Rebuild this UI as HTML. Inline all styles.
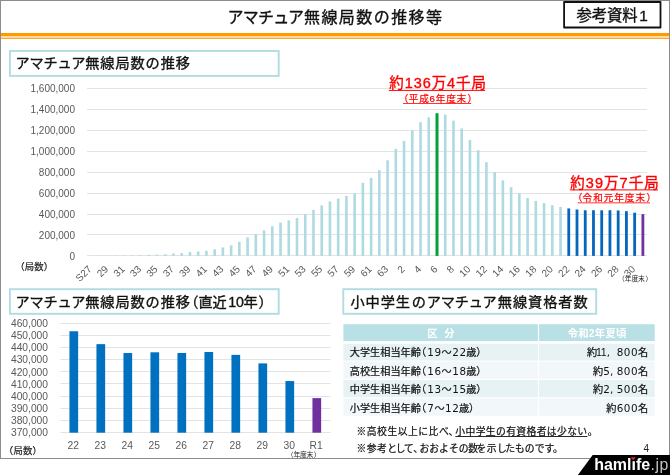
<!DOCTYPE html>
<html lang="ja"><head><meta charset="utf-8"><title>アマチュア無線局数の推移等</title>
<style>html,body{margin:0;padding:0;background:#fff;}svg{display:block;}</style>
</head><body>
<svg width="670" height="475" viewBox="0 0 670 475" font-family='&quot;Liberation Sans&quot;, &quot;Noto Sans CJK JP&quot;, sans-serif'>
<rect x="0" y="0" width="670" height="475" fill="#fff"/>
<rect x="0.5" y="0.5" width="669" height="458" fill="#fff" stroke="#8c8c8c" stroke-width="1"/>
<rect x="1" y="33" width="668" height="3" fill="#ff9a00"/>
<rect x="1" y="36" width="668" height="2" fill="#ffd9a3"/>
<rect x="1" y="38" width="668" height="1" fill="#ffa826"/>
<text x="227.50" y="22.80" font-size="16" fill="#111" stroke="#111" stroke-width="0.35" textLength="76.60" lengthAdjust="spacing">アマチュア</text>
<text x="304.00" y="22.80" font-size="16" fill="#111" stroke="#111" stroke-width="0.35" textLength="138.00" lengthAdjust="spacing">無線局数の推移等</text>
<rect x="564.1" y="2.0" width="96.4" height="25.5" fill="#fff" stroke="#111" stroke-width="1.8" stroke-linejoin="round"/>
<text x="576.40" y="20.80" font-size="15.4" fill="#111" stroke="#111" stroke-width="0.35" textLength="61.20" lengthAdjust="spacing">参考資料</text>
<text x="639.30" y="20.80" font-size="15.4" fill="#111" stroke="#111" stroke-width="0.35">1</text>
<rect x="9.9" y="51.0" width="268.8" height="24.9" fill="#fff" stroke="#b2dce3" stroke-width="1.9"/>
<text x="15.60" y="68.40" font-size="14.2" fill="#111" stroke="#111" stroke-width="0.35" textLength="69.80" lengthAdjust="spacing">アマチュア</text>
<text x="85.20" y="68.40" font-size="14.2" fill="#111" stroke="#111" stroke-width="0.35" textLength="104.80" lengthAdjust="spacing">無線局数の推移</text>
<line x1="87.0" y1="255.50" x2="647.0" y2="255.50" stroke="#e3e3e3" stroke-width="1"/>
<text x="75" y="259.50" font-size="10" text-anchor="end" fill="#595959">0</text>
<line x1="87.0" y1="234.50" x2="647.0" y2="234.50" stroke="#e3e3e3" stroke-width="1"/>
<text x="75" y="238.55" font-size="10" text-anchor="end" fill="#595959">200,000</text>
<line x1="87.0" y1="214.50" x2="647.0" y2="214.50" stroke="#e3e3e3" stroke-width="1"/>
<text x="75" y="217.60" font-size="10" text-anchor="end" fill="#595959">400,000</text>
<line x1="87.0" y1="193.50" x2="647.0" y2="193.50" stroke="#e3e3e3" stroke-width="1"/>
<text x="75" y="196.65" font-size="10" text-anchor="end" fill="#595959">600,000</text>
<line x1="87.0" y1="172.50" x2="647.0" y2="172.50" stroke="#e3e3e3" stroke-width="1"/>
<text x="75" y="175.70" font-size="10" text-anchor="end" fill="#595959">800,000</text>
<line x1="87.0" y1="151.50" x2="647.0" y2="151.50" stroke="#e3e3e3" stroke-width="1"/>
<text x="75" y="154.75" font-size="10" text-anchor="end" fill="#595959">1,000,000</text>
<line x1="87.0" y1="130.50" x2="647.0" y2="130.50" stroke="#e3e3e3" stroke-width="1"/>
<text x="75" y="133.80" font-size="10" text-anchor="end" fill="#595959">1,200,000</text>
<line x1="87.0" y1="109.50" x2="647.0" y2="109.50" stroke="#e3e3e3" stroke-width="1"/>
<text x="75" y="112.85" font-size="10" text-anchor="end" fill="#595959">1,400,000</text>
<line x1="87.0" y1="88.50" x2="647.0" y2="88.50" stroke="#e3e3e3" stroke-width="1"/>
<text x="75" y="91.90" font-size="10" text-anchor="end" fill="#595959">1,600,000</text>
<rect x="89.82" y="255.90" width="2.60" height="0.00" fill="#aedae1"/>
<rect x="98.05" y="255.85" width="2.60" height="0.05" fill="#aedae1"/>
<rect x="106.29" y="255.74" width="2.60" height="0.16" fill="#aedae1"/>
<rect x="114.52" y="255.62" width="2.60" height="0.28" fill="#aedae1"/>
<rect x="122.76" y="255.50" width="2.60" height="0.40" fill="#aedae1"/>
<rect x="130.99" y="255.38" width="2.60" height="0.52" fill="#aedae1"/>
<rect x="139.23" y="255.22" width="2.60" height="0.68" fill="#aedae1"/>
<rect x="147.46" y="254.96" width="2.60" height="0.94" fill="#aedae1"/>
<rect x="155.70" y="254.57" width="2.60" height="1.33" fill="#aedae1"/>
<rect x="163.94" y="254.22" width="2.60" height="1.68" fill="#aedae1"/>
<rect x="172.17" y="253.44" width="2.60" height="2.46" fill="#aedae1"/>
<rect x="180.41" y="253.07" width="2.60" height="2.83" fill="#aedae1"/>
<rect x="188.64" y="252.13" width="2.60" height="3.77" fill="#aedae1"/>
<rect x="196.88" y="251.40" width="2.60" height="4.50" fill="#aedae1"/>
<rect x="205.11" y="250.77" width="2.60" height="5.13" fill="#aedae1"/>
<rect x="213.35" y="249.30" width="2.60" height="6.60" fill="#aedae1"/>
<rect x="221.58" y="247.42" width="2.60" height="8.48" fill="#aedae1"/>
<rect x="229.82" y="245.32" width="2.60" height="10.58" fill="#aedae1"/>
<rect x="238.05" y="241.86" width="2.60" height="14.04" fill="#aedae1"/>
<rect x="246.29" y="237.36" width="2.60" height="18.54" fill="#aedae1"/>
<rect x="254.52" y="234.01" width="2.60" height="21.89" fill="#aedae1"/>
<rect x="262.76" y="230.45" width="2.60" height="25.45" fill="#aedae1"/>
<rect x="270.99" y="226.20" width="2.60" height="29.70" fill="#aedae1"/>
<rect x="279.23" y="222.59" width="2.60" height="33.31" fill="#aedae1"/>
<rect x="287.46" y="220.33" width="2.60" height="35.57" fill="#aedae1"/>
<rect x="295.70" y="218.05" width="2.60" height="37.85" fill="#aedae1"/>
<rect x="303.94" y="214.26" width="2.60" height="41.64" fill="#aedae1"/>
<rect x="312.17" y="209.91" width="2.60" height="45.99" fill="#aedae1"/>
<rect x="320.41" y="205.36" width="2.60" height="50.54" fill="#aedae1"/>
<rect x="328.64" y="201.38" width="2.60" height="54.52" fill="#aedae1"/>
<rect x="336.88" y="198.53" width="2.60" height="57.37" fill="#aedae1"/>
<rect x="345.11" y="195.88" width="2.60" height="60.02" fill="#aedae1"/>
<rect x="353.35" y="193.41" width="2.60" height="62.49" fill="#aedae1"/>
<rect x="361.58" y="182.78" width="2.60" height="73.12" fill="#aedae1"/>
<rect x="369.82" y="177.86" width="2.60" height="78.04" fill="#aedae1"/>
<rect x="378.05" y="170.14" width="2.60" height="85.76" fill="#aedae1"/>
<rect x="386.29" y="160.28" width="2.60" height="95.62" fill="#aedae1"/>
<rect x="394.52" y="148.90" width="2.60" height="107.00" fill="#aedae1"/>
<rect x="402.76" y="140.94" width="2.60" height="114.96" fill="#aedae1"/>
<rect x="410.99" y="130.34" width="2.60" height="125.56" fill="#aedae1"/>
<rect x="419.23" y="122.19" width="2.60" height="133.71" fill="#aedae1"/>
<rect x="427.46" y="117.42" width="2.60" height="138.48" fill="#aedae1"/>
<rect x="435.50" y="113.23" width="3.00" height="142.67" fill="#00a13a"/>
<rect x="443.94" y="114.70" width="2.60" height="141.20" fill="#aedae1"/>
<rect x="452.17" y="120.67" width="2.60" height="135.23" fill="#aedae1"/>
<rect x="460.41" y="128.44" width="2.60" height="127.46" fill="#aedae1"/>
<rect x="468.64" y="140.00" width="2.60" height="115.90" fill="#aedae1"/>
<rect x="476.88" y="150.25" width="2.60" height="105.65" fill="#aedae1"/>
<rect x="485.11" y="162.20" width="2.60" height="93.70" fill="#aedae1"/>
<rect x="493.35" y="172.20" width="2.60" height="83.70" fill="#aedae1"/>
<rect x="501.58" y="180.38" width="2.60" height="75.52" fill="#aedae1"/>
<rect x="509.82" y="187.18" width="2.60" height="68.72" fill="#aedae1"/>
<rect x="518.05" y="193.47" width="2.60" height="62.43" fill="#aedae1"/>
<rect x="526.29" y="198.00" width="2.60" height="57.90" fill="#aedae1"/>
<rect x="534.52" y="200.85" width="2.60" height="55.05" fill="#aedae1"/>
<rect x="542.76" y="203.13" width="2.60" height="52.77" fill="#aedae1"/>
<rect x="550.99" y="205.20" width="2.60" height="50.70" fill="#aedae1"/>
<rect x="559.23" y="206.92" width="2.60" height="48.98" fill="#aedae1"/>
<rect x="567.36" y="208.45" width="2.80" height="47.45" fill="#0566be"/>
<rect x="575.60" y="209.50" width="2.80" height="46.40" fill="#0566be"/>
<rect x="583.84" y="210.28" width="2.80" height="45.62" fill="#0566be"/>
<rect x="592.07" y="210.23" width="2.80" height="45.67" fill="#0566be"/>
<rect x="600.31" y="210.28" width="2.80" height="45.62" fill="#0566be"/>
<rect x="608.54" y="210.21" width="2.80" height="45.69" fill="#0566be"/>
<rect x="616.78" y="210.44" width="2.80" height="45.46" fill="#0566be"/>
<rect x="625.01" y="211.17" width="2.80" height="44.73" fill="#0566be"/>
<rect x="633.25" y="212.69" width="2.80" height="43.21" fill="#0566be"/>
<rect x="641.48" y="214.16" width="2.80" height="41.74" fill="#7030a0"/>
<text transform="translate(92.42,269.70) rotate(-45)" font-size="10" text-anchor="end" fill="#595959">S27</text>
<text transform="translate(108.89,269.70) rotate(-45)" font-size="10" text-anchor="end" fill="#595959">29</text>
<text transform="translate(125.36,269.70) rotate(-45)" font-size="10" text-anchor="end" fill="#595959">31</text>
<text transform="translate(141.83,269.70) rotate(-45)" font-size="10" text-anchor="end" fill="#595959">33</text>
<text transform="translate(158.30,269.70) rotate(-45)" font-size="10" text-anchor="end" fill="#595959">35</text>
<text transform="translate(174.77,269.70) rotate(-45)" font-size="10" text-anchor="end" fill="#595959">37</text>
<text transform="translate(191.24,269.70) rotate(-45)" font-size="10" text-anchor="end" fill="#595959">39</text>
<text transform="translate(207.71,269.70) rotate(-45)" font-size="10" text-anchor="end" fill="#595959">41</text>
<text transform="translate(224.18,269.70) rotate(-45)" font-size="10" text-anchor="end" fill="#595959">43</text>
<text transform="translate(240.65,269.70) rotate(-45)" font-size="10" text-anchor="end" fill="#595959">45</text>
<text transform="translate(257.12,269.70) rotate(-45)" font-size="10" text-anchor="end" fill="#595959">47</text>
<text transform="translate(273.59,269.70) rotate(-45)" font-size="10" text-anchor="end" fill="#595959">49</text>
<text transform="translate(290.06,269.70) rotate(-45)" font-size="10" text-anchor="end" fill="#595959">51</text>
<text transform="translate(306.54,269.70) rotate(-45)" font-size="10" text-anchor="end" fill="#595959">53</text>
<text transform="translate(323.01,269.70) rotate(-45)" font-size="10" text-anchor="end" fill="#595959">55</text>
<text transform="translate(339.48,269.70) rotate(-45)" font-size="10" text-anchor="end" fill="#595959">57</text>
<text transform="translate(355.95,269.70) rotate(-45)" font-size="10" text-anchor="end" fill="#595959">59</text>
<text transform="translate(372.42,269.70) rotate(-45)" font-size="10" text-anchor="end" fill="#595959">61</text>
<text transform="translate(388.89,269.70) rotate(-45)" font-size="10" text-anchor="end" fill="#595959">63</text>
<text transform="translate(405.36,269.70) rotate(-45)" font-size="10" text-anchor="end" fill="#595959">2</text>
<text transform="translate(421.83,269.70) rotate(-45)" font-size="10" text-anchor="end" fill="#595959">4</text>
<text transform="translate(438.30,269.70) rotate(-45)" font-size="10" text-anchor="end" fill="#595959">6</text>
<text transform="translate(454.77,269.70) rotate(-45)" font-size="10" text-anchor="end" fill="#595959">8</text>
<text transform="translate(471.24,269.70) rotate(-45)" font-size="10" text-anchor="end" fill="#595959">10</text>
<text transform="translate(487.71,269.70) rotate(-45)" font-size="10" text-anchor="end" fill="#595959">12</text>
<text transform="translate(504.18,269.70) rotate(-45)" font-size="10" text-anchor="end" fill="#595959">14</text>
<text transform="translate(520.65,269.70) rotate(-45)" font-size="10" text-anchor="end" fill="#595959">16</text>
<text transform="translate(537.12,269.70) rotate(-45)" font-size="10" text-anchor="end" fill="#595959">18</text>
<text transform="translate(553.59,269.70) rotate(-45)" font-size="10" text-anchor="end" fill="#595959">20</text>
<text transform="translate(570.06,269.70) rotate(-45)" font-size="10" text-anchor="end" fill="#595959">22</text>
<text transform="translate(586.54,269.70) rotate(-45)" font-size="10" text-anchor="end" fill="#595959">24</text>
<text transform="translate(603.01,269.70) rotate(-45)" font-size="10" text-anchor="end" fill="#595959">26</text>
<text transform="translate(619.48,269.70) rotate(-45)" font-size="10" text-anchor="end" fill="#595959">28</text>
<text transform="translate(635.95,269.70) rotate(-45)" font-size="10" text-anchor="end" fill="#595959">30</text>
<text x="15.30" y="270.10" font-size="9.4" fill="#222" stroke="#222" stroke-width="0.22">（</text>
<text x="24.80" y="270.10" font-size="9.4" fill="#222" stroke="#222" stroke-width="0.22" textLength="18.90" lengthAdjust="spacing">局数</text>
<text x="43.70" y="270.10" font-size="9.4" fill="#222" stroke="#222" stroke-width="0.22">）</text>
<text x="618.00" y="280.80" font-size="6.8" fill="#222">（</text>
<text x="624.70" y="280.80" font-size="6.8" fill="#222" textLength="20.20" lengthAdjust="spacing">年度末</text>
<text x="645.40" y="280.80" font-size="6.8" fill="#222">）</text>
<text x="389.20" y="88.20" font-size="14.5" fill="#ff0000" stroke="#ff0000" stroke-width="0.35" textLength="96.80" lengthAdjust="spacing">約136万4千局</text>
<line x1="388.8" y1="90.40" x2="485.2" y2="90.40" stroke="#ff0000" stroke-width="1.00"/>
<text x="398.80" y="101.70" font-size="9.6" fill="#ff0000" stroke="#ff0000" stroke-width="0.22">（</text>
<text x="408.70" y="101.70" font-size="9.6" fill="#ff0000" stroke="#ff0000" stroke-width="0.22" textLength="57.50" lengthAdjust="spacing">平成6年度末</text>
<text x="467.40" y="101.70" font-size="9.6" fill="#ff0000" stroke="#ff0000" stroke-width="0.22">）</text>
<line x1="403.1" y1="103.50" x2="471.1" y2="103.50" stroke="#ff0000" stroke-width="0.80"/>
<text x="570.20" y="187.90" font-size="14.5" fill="#ff0000" stroke="#ff0000" stroke-width="0.35" textLength="88.60" lengthAdjust="spacing">約39万7千局</text>
<line x1="569.8" y1="189.90" x2="658.0" y2="189.90" stroke="#ff0000" stroke-width="1.00"/>
<text x="572.70" y="201.30" font-size="9.6" fill="#ff0000" stroke="#ff0000" stroke-width="0.22">（</text>
<text x="582.60" y="201.30" font-size="9.6" fill="#ff0000" stroke="#ff0000" stroke-width="0.22" textLength="62.40" lengthAdjust="spacing">令和元年度末</text>
<text x="646.60" y="201.30" font-size="9.6" fill="#ff0000" stroke="#ff0000" stroke-width="0.22">）</text>
<line x1="577.7" y1="202.85" x2="650.0" y2="202.85" stroke="#ff0000" stroke-width="0.80"/>
<rect x="9.9" y="289.2" width="268.8" height="24.6" fill="#fff" stroke="#b2dce3" stroke-width="1.9"/>
<text x="15.60" y="306.90" font-size="14.2" fill="#111" stroke="#111" stroke-width="0.35" textLength="69.80" lengthAdjust="spacing">アマチュア</text>
<text x="85.20" y="306.90" font-size="14.2" fill="#111" stroke="#111" stroke-width="0.35" textLength="104.80" lengthAdjust="spacing">無線局数の推移</text>
<text x="184.20" y="306.90" font-size="14.2" fill="#111" stroke="#111" stroke-width="0.35">（</text>
<text x="198.40" y="306.90" font-size="14.2" fill="#111" stroke="#111" stroke-width="0.35">直近</text>
<text x="228.20" y="306.90" font-size="14.2" fill="#111" stroke="#111" stroke-width="0.35">10</text>
<text x="243.60" y="306.90" font-size="14.2" fill="#111" stroke="#111" stroke-width="0.35">年</text>
<text x="258.60" y="306.90" font-size="14.2" fill="#111" stroke="#111" stroke-width="0.35">）</text>
<line x1="60.5" y1="432.50" x2="330.5" y2="432.50" stroke="#e3e3e3" stroke-width="1"/>
<text x="48.0" y="436.40" font-size="10.25" text-anchor="end" fill="#595959">370,000</text>
<line x1="60.5" y1="420.50" x2="330.5" y2="420.50" stroke="#e3e3e3" stroke-width="1"/>
<text x="48.0" y="424.22" font-size="10.25" text-anchor="end" fill="#595959">380,000</text>
<line x1="60.5" y1="408.50" x2="330.5" y2="408.50" stroke="#e3e3e3" stroke-width="1"/>
<text x="48.0" y="412.04" font-size="10.25" text-anchor="end" fill="#595959">390,000</text>
<line x1="60.5" y1="396.50" x2="330.5" y2="396.50" stroke="#e3e3e3" stroke-width="1"/>
<text x="48.0" y="399.86" font-size="10.25" text-anchor="end" fill="#595959">400,000</text>
<line x1="60.5" y1="383.50" x2="330.5" y2="383.50" stroke="#e3e3e3" stroke-width="1"/>
<text x="48.0" y="387.68" font-size="10.25" text-anchor="end" fill="#595959">410,000</text>
<line x1="60.5" y1="371.50" x2="330.5" y2="371.50" stroke="#e3e3e3" stroke-width="1"/>
<text x="48.0" y="375.50" font-size="10.25" text-anchor="end" fill="#595959">420,000</text>
<line x1="60.5" y1="359.50" x2="330.5" y2="359.50" stroke="#e3e3e3" stroke-width="1"/>
<text x="48.0" y="363.32" font-size="10.25" text-anchor="end" fill="#595959">430,000</text>
<line x1="60.5" y1="347.50" x2="330.5" y2="347.50" stroke="#e3e3e3" stroke-width="1"/>
<text x="48.0" y="351.14" font-size="10.25" text-anchor="end" fill="#595959">440,000</text>
<line x1="60.5" y1="335.50" x2="330.5" y2="335.50" stroke="#e3e3e3" stroke-width="1"/>
<text x="48.0" y="338.96" font-size="10.25" text-anchor="end" fill="#595959">450,000</text>
<line x1="60.5" y1="323.50" x2="330.5" y2="323.50" stroke="#e3e3e3" stroke-width="1"/>
<text x="48.0" y="326.78" font-size="10.25" text-anchor="end" fill="#595959">460,000</text>
<rect x="69.45" y="331.24" width="8.70" height="101.46" fill="#0070c0"/>
<text x="73.20" y="448.6" font-size="10.3" text-anchor="middle" fill="#595959">22</text>
<rect x="96.45" y="344.15" width="8.70" height="88.55" fill="#0070c0"/>
<text x="100.20" y="448.6" font-size="10.3" text-anchor="middle" fill="#595959">23</text>
<rect x="123.45" y="353.04" width="8.70" height="79.66" fill="#0070c0"/>
<text x="127.20" y="448.6" font-size="10.3" text-anchor="middle" fill="#595959">24</text>
<rect x="150.45" y="352.31" width="8.70" height="80.39" fill="#0070c0"/>
<text x="154.20" y="448.6" font-size="10.3" text-anchor="middle" fill="#595959">25</text>
<rect x="177.45" y="352.98" width="8.70" height="79.72" fill="#0070c0"/>
<text x="181.20" y="448.6" font-size="10.3" text-anchor="middle" fill="#595959">26</text>
<rect x="204.45" y="352.01" width="8.70" height="80.69" fill="#0070c0"/>
<text x="208.20" y="448.6" font-size="10.3" text-anchor="middle" fill="#595959">27</text>
<rect x="231.45" y="354.87" width="8.70" height="77.83" fill="#0070c0"/>
<text x="235.20" y="448.6" font-size="10.3" text-anchor="middle" fill="#595959">28</text>
<rect x="258.45" y="363.40" width="8.70" height="69.30" fill="#0070c0"/>
<text x="262.20" y="448.6" font-size="10.3" text-anchor="middle" fill="#595959">29</text>
<rect x="285.45" y="381.06" width="8.70" height="51.64" fill="#0070c0"/>
<text x="289.20" y="448.6" font-size="10.3" text-anchor="middle" fill="#595959">30</text>
<rect x="312.45" y="398.11" width="8.70" height="34.59" fill="#7030a0"/>
<text x="316.20" y="448.6" font-size="10.3" text-anchor="middle" fill="#595959">R1</text>
<text x="3.80" y="453.50" font-size="9.4" fill="#222" stroke="#222" stroke-width="0.22">（</text>
<text x="13.50" y="453.50" font-size="9.4" fill="#222" stroke="#222" stroke-width="0.22" textLength="18.90" lengthAdjust="spacing">局数</text>
<text x="32.50" y="453.50" font-size="9.4" fill="#222" stroke="#222" stroke-width="0.22">）</text>
<text x="286.70" y="457.10" font-size="6.8" fill="#222">（</text>
<text x="293.40" y="457.10" font-size="6.8" fill="#222" textLength="19.90" lengthAdjust="spacing">年度末</text>
<text x="313.70" y="457.10" font-size="6.8" fill="#222">）</text>
<rect x="343.3" y="289.2" width="252.9" height="24.6" fill="#fff" stroke="#b2dce3" stroke-width="1.9"/>
<text x="350.40" y="306.90" font-size="14.2" fill="#111" stroke="#111" stroke-width="0.35" textLength="59.60" lengthAdjust="spacing">小中学生</text>
<text x="411.80" y="306.90" font-size="14.2" fill="#111" stroke="#111" stroke-width="0.35">の</text>
<text x="426.80" y="306.90" font-size="14.2" fill="#111" stroke="#111" stroke-width="0.35" textLength="69.80" lengthAdjust="spacing">アマチュア</text>
<text x="497.80" y="306.90" font-size="14.2" fill="#111" stroke="#111" stroke-width="0.35" textLength="89.90" lengthAdjust="spacing">無線資格者数</text>
<rect x="343.4" y="324.2" width="311.3" height="16.9" fill="#b9e0e4"/>
<rect x="343.4" y="343.7" width="311.3" height="16.8" fill="#e6f2f4"/>
<rect x="343.4" y="361.6" width="311.3" height="17.2" fill="#f2f8fa"/>
<rect x="343.4" y="380.0" width="311.3" height="17.2" fill="#e6f2f4"/>
<rect x="343.4" y="398.4" width="311.3" height="17.4" fill="#f2f8fa"/>
<rect x="537.9" y="324" width="1.2" height="92" fill="#fff"/>
<text x="427.20" y="337.40" font-size="10.3" fill="#fff" font-weight="bold">区</text>
<text x="444.20" y="337.40" font-size="10.3" fill="#fff" font-weight="bold">分</text>
<text x="567.70" y="337.40" font-size="10.3" fill="#fff" font-weight="bold" textLength="58.60" lengthAdjust="spacing">令和2年夏頃</text>
<text x="349.80" y="356.30" font-size="10.17" fill="#111" stroke="#111" stroke-width="0.22">大学生相当年齢</text>
<text x="416.10" y="356.30" font-size="10.17" fill="#111" stroke="#111" stroke-width="0.22">（</text>
<text x="427.30" y="356.30" font-size="10.4" fill="#111" font-family="DejaVu Sans, sans-serif" letter-spacing="0.55">19</text>
<text x="441.60" y="356.30" font-size="10.17" fill="#111" stroke="#111" stroke-width="0.22">～</text>
<text x="452.30" y="356.30" font-size="10.4" fill="#111" font-family="DejaVu Sans, sans-serif" letter-spacing="0.55">22</text>
<text x="466.20" y="356.30" font-size="10.17" fill="#111" stroke="#111" stroke-width="0.22">歳</text>
<text x="476.30" y="356.30" font-size="10.17" fill="#111" stroke="#111" stroke-width="0.22">）</text>
<text x="349.80" y="374.80" font-size="10.17" fill="#111" stroke="#111" stroke-width="0.22">高校生相当年齢</text>
<text x="416.10" y="374.80" font-size="10.17" fill="#111" stroke="#111" stroke-width="0.22">（</text>
<text x="427.30" y="374.80" font-size="10.4" fill="#111" font-family="DejaVu Sans, sans-serif" letter-spacing="0.55">16</text>
<text x="441.60" y="374.80" font-size="10.17" fill="#111" stroke="#111" stroke-width="0.22">～</text>
<text x="452.30" y="374.80" font-size="10.4" fill="#111" font-family="DejaVu Sans, sans-serif" letter-spacing="0.55">18</text>
<text x="466.20" y="374.80" font-size="10.17" fill="#111" stroke="#111" stroke-width="0.22">歳</text>
<text x="476.30" y="374.80" font-size="10.17" fill="#111" stroke="#111" stroke-width="0.22">）</text>
<text x="349.80" y="393.30" font-size="10.17" fill="#111" stroke="#111" stroke-width="0.22">中学生相当年齢</text>
<text x="416.10" y="393.30" font-size="10.17" fill="#111" stroke="#111" stroke-width="0.22">（</text>
<text x="427.30" y="393.30" font-size="10.4" fill="#111" font-family="DejaVu Sans, sans-serif" letter-spacing="0.55">13</text>
<text x="441.60" y="393.30" font-size="10.17" fill="#111" stroke="#111" stroke-width="0.22">～</text>
<text x="452.30" y="393.30" font-size="10.4" fill="#111" font-family="DejaVu Sans, sans-serif" letter-spacing="0.55">15</text>
<text x="466.20" y="393.30" font-size="10.17" fill="#111" stroke="#111" stroke-width="0.22">歳</text>
<text x="476.30" y="393.30" font-size="10.17" fill="#111" stroke="#111" stroke-width="0.22">）</text>
<text x="349.80" y="411.90" font-size="10.17" fill="#111" stroke="#111" stroke-width="0.22">小学生相当年齢</text>
<text x="416.10" y="411.90" font-size="10.17" fill="#111" stroke="#111" stroke-width="0.22">（</text>
<text x="427.30" y="411.90" font-size="10.4" fill="#111" font-family="DejaVu Sans, sans-serif" letter-spacing="0.55">7</text>
<text x="434.40" y="411.90" font-size="10.17" fill="#111" stroke="#111" stroke-width="0.22">～</text>
<text x="445.10" y="411.90" font-size="10.4" fill="#111" font-family="DejaVu Sans, sans-serif" letter-spacing="0.55">12</text>
<text x="459.00" y="411.90" font-size="10.17" fill="#111" stroke="#111" stroke-width="0.22">歳</text>
<text x="469.10" y="411.90" font-size="10.17" fill="#111" stroke="#111" stroke-width="0.22">）</text>
<text x="637.90" y="356.30" font-size="10.17" fill="#111" stroke="#111" stroke-width="0.22">名</text>
<text x="616.70" y="356.30" font-size="10.4" fill="#111" font-family="DejaVu Sans, sans-serif" letter-spacing="0.55">800</text>
<text x="606.70" y="356.30" font-size="10.4" fill="#111" font-family="DejaVu Sans, sans-serif">,</text>
<text x="596.00" y="356.30" font-size="10.6" fill="#111" letter-spacing="-0.3">11</text>
<text x="586.90" y="356.30" font-size="10.17" fill="#111" stroke="#111" stroke-width="0.22">約</text>
<text x="637.90" y="374.80" font-size="10.17" fill="#111" stroke="#111" stroke-width="0.22">名</text>
<text x="616.70" y="374.80" font-size="10.4" fill="#111" font-family="DejaVu Sans, sans-serif" letter-spacing="0.55">800</text>
<text x="610.10" y="374.80" font-size="10.4" fill="#111" font-family="DejaVu Sans, sans-serif">,</text>
<text x="603.30" y="374.80" font-size="10.4" fill="#111" font-family="DejaVu Sans, sans-serif" letter-spacing="0.55">5</text>
<text x="592.90" y="374.80" font-size="10.17" fill="#111" stroke="#111" stroke-width="0.22">約</text>
<text x="637.90" y="393.30" font-size="10.17" fill="#111" stroke="#111" stroke-width="0.22">名</text>
<text x="616.70" y="393.30" font-size="10.4" fill="#111" font-family="DejaVu Sans, sans-serif" letter-spacing="0.55">500</text>
<text x="610.10" y="393.30" font-size="10.4" fill="#111" font-family="DejaVu Sans, sans-serif">,</text>
<text x="603.30" y="393.30" font-size="10.4" fill="#111" font-family="DejaVu Sans, sans-serif" letter-spacing="0.55">2</text>
<text x="592.90" y="393.30" font-size="10.17" fill="#111" stroke="#111" stroke-width="0.22">約</text>
<text x="637.90" y="411.90" font-size="10.17" fill="#111" stroke="#111" stroke-width="0.22">名</text>
<text x="616.70" y="411.90" font-size="10.4" fill="#111" font-family="DejaVu Sans, sans-serif" letter-spacing="0.55">600</text>
<text x="606.30" y="411.90" font-size="10.17" fill="#111" stroke="#111" stroke-width="0.22">約</text>
<text x="356.50" y="434.80" font-size="9.8" fill="#111" stroke="#111" stroke-width="0.22" textLength="92.20" lengthAdjust="spacing">※高校生以上に比べ</text>
<text x="448.50" y="434.80" font-size="9.8" fill="#111" stroke="#111" stroke-width="0.22">、</text>
<text x="455.30" y="434.80" font-size="9.8" fill="#111" stroke="#111" stroke-width="0.22" textLength="131.80" lengthAdjust="spacing">小中学生の有資格者は少ない</text>
<text x="587.80" y="434.80" font-size="9.8" fill="#111" stroke="#111" stroke-width="0.22">。</text>
<line x1="455.3" y1="436.50" x2="587.4" y2="436.50" stroke="#111" stroke-width="0.90"/>
<text x="356.50" y="452.20" font-size="9.8" fill="#111" stroke="#111" stroke-width="0.22" textLength="30.40" lengthAdjust="spacing">※参考</text>
<text x="387.20" y="452.20" font-size="9.8" fill="#111" stroke="#111" stroke-width="0.22" textLength="26.60" lengthAdjust="spacing">として</text>
<text x="413.30" y="452.20" font-size="9.8" fill="#111" stroke="#111" stroke-width="0.22">、</text>
<text x="419.40" y="452.20" font-size="9.8" fill="#111" stroke="#111" stroke-width="0.22" textLength="49.10" lengthAdjust="spacing">おおよその</text>
<text x="468.30" y="452.20" font-size="9.8" fill="#111" stroke="#111" stroke-width="0.22">数</text>
<text x="476.60" y="452.20" font-size="9.8" fill="#111" stroke="#111" stroke-width="0.22">を</text>
<text x="486.80" y="452.20" font-size="9.8" fill="#111" stroke="#111" stroke-width="0.22">示</text>
<text x="496.90" y="452.20" font-size="9.8" fill="#111" stroke="#111" stroke-width="0.22">し</text>
<text x="505.20" y="452.20" font-size="9.8" fill="#111" stroke="#111" stroke-width="0.22" textLength="49.10" lengthAdjust="spacing">たものです</text>
<text x="553.00" y="452.20" font-size="9.8" fill="#111" stroke="#111" stroke-width="0.22">。</text>
<text x="646.4" y="452.3" font-size="10" text-anchor="middle" fill="#222">4</text>
<polygon points="592.7,455 670,455 670,475 577.9,475" fill="#000"/>
<text x="594.2" y="470.0" font-size="16" font-weight="bold" fill="#fff">hamlife</text>
<text x="650.6" y="470.0" font-size="15.8" fill="#c4c4c4" textLength="17.6" lengthAdjust="spacing">.jp</text>
<rect x="631.4" y="457.6" width="4.2" height="3.6" fill="#000"/>
<path d="M633.2,460.3 L631.1,458.1 Q631.1,456.9 632.1,456.9 Q633.2,456.9 633.2,457.8 Q633.2,456.9 634.3,456.9 Q635.3,456.9 635.3,458.1 Z" fill="#ed1c24"/>
</svg>
</body></html>
